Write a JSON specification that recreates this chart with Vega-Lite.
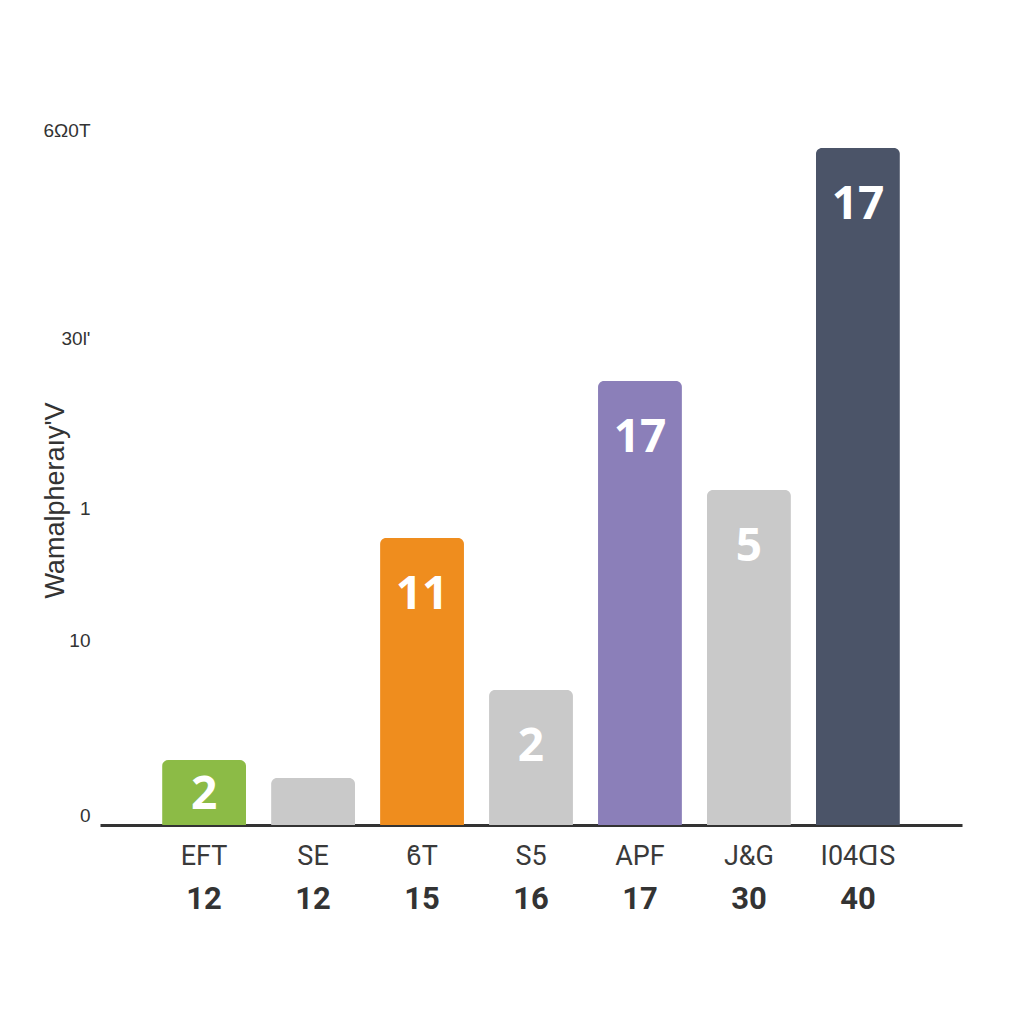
{
  "$schema": "https://vega.github.io/schema/vega-lite/v6.json",
  "autosize": "none",
  "width": 862,
  "height": 700,
  "padding": {"left": 100, "top": 125, "right": 62, "bottom": 199},
  "background": "#ffffff",
  "config": {"view": {"stroke": null}},
  "data": {
    "values": [
      {"cat": "EFT", "value": 6.5, "label": "2", "num": "12"},
      {"cat": "SE", "value": 4.7, "label": "", "num": "12"},
      {"cat": "ϐT", "value": 28.7, "label": "11", "num": "15"},
      {"cat": "S5", "value": 13.5, "label": "2", "num": "16"},
      {"cat": "APF", "value": 44.4, "label": "17", "num": "17"},
      {"cat": "J&G", "value": 33.5, "label": "5", "num": "30"},
      {"cat": "I04ᗡS", "value": 67.7, "label": "17", "num": "40"}
    ]
  },
  "encoding": {
    "x": {
      "field": "cat",
      "type": "nominal",
      "sort": null,
      "scale": {"paddingInner": 0.23, "paddingOuter": 0.57},
      "axis": {
        "title": null,
        "labelAngle": 0,
        "labelFont": "Liberation Sans Narrow, Roboto, sans-serif",
        "labelFontSize": 27,
        "labelColor": "#3a3a3a",
        "labelPadding": 18,
        "ticks": false,
        "domainColor": "#333333",
        "domainWidth": 3
      }
    }
  },
  "layer": [
    {
      "mark": {"type": "bar", "cornerRadiusTopLeft": 6, "cornerRadiusTopRight": 6},
      "encoding": {
        "y": {
          "field": "value",
          "type": "quantitative",
          "scale": {"domain": [0, 70], "nice": false},
          "axis": {
            "values": [1, 18.5, 31.7, 48.7, 69.5],
            "labelExpr": "datum.value == 1 ? '0' : datum.value == 18.5 ? '10' : datum.value == 31.7 ? '1' : datum.value == 48.7 ? '30l\\'' : '6Ω0T'",
            "grid": false,
            "ticks": false,
            "domain": false,
            "labelFont": "Liberation Sans, sans-serif",
            "labelFontSize": 19,
            "labelColor": "#333333",
            "labelPadding": 10,
            "title": "Wamalpheraıy'V",
            "titleFont": "Liberation Sans, sans-serif",
            "titleFontSize": 27,
            "titleFontWeight": "normal",
            "titleColor": "#333333",
            "titleAngle": -90,
            "titleAlign": "center",
            "titleBaseline": "middle",
            "titleX": -45,
            "titleY": 375
          }
        },
        "color": {
          "field": "cat",
          "type": "nominal",
          "sort": null,
          "legend": null,
          "scale": {
            "domain": ["EFT", "SE", "ϐT", "S5", "APF", "J&G", "I04ᗡS"],
            "range": ["#8cbb46", "#c9c9c9", "#ef8d1e", "#c9c9c9", "#8b7fb9", "#c9c9c9", "#4b5468"]
          }
        }
      }
    },
    {
      "transform": [{"filter": "datum.cat != 'EFT'"}],
      "mark": {"type": "text", "baseline": "middle", "align": "center", "dy": 57, "color": "#ffffff", "font": "Open Sans, sans-serif", "fontWeight": "bold", "fontSize": 46},
      "encoding": {
        "y": {"field": "value", "type": "quantitative"},
        "text": {"field": "label"}
      }
    },
    {
      "transform": [{"filter": "datum.cat == 'EFT'"}],
      "mark": {"type": "text", "baseline": "middle", "align": "center", "dy": 35, "color": "#ffffff", "font": "Open Sans, sans-serif", "fontWeight": "bold", "fontSize": 46},
      "encoding": {
        "y": {"field": "value", "type": "quantitative"},
        "text": {"field": "label"}
      }
    },
    {
      "mark": {"type": "text", "baseline": "middle", "align": "center", "dy": 75, "color": "#333333", "font": "Liberation Sans Narrow, Roboto, sans-serif", "fontWeight": "bold", "fontSize": 31},
      "encoding": {
        "y": {"datum": 0, "type": "quantitative"},
        "text": {"field": "num"}
      }
    }
  ]
}
